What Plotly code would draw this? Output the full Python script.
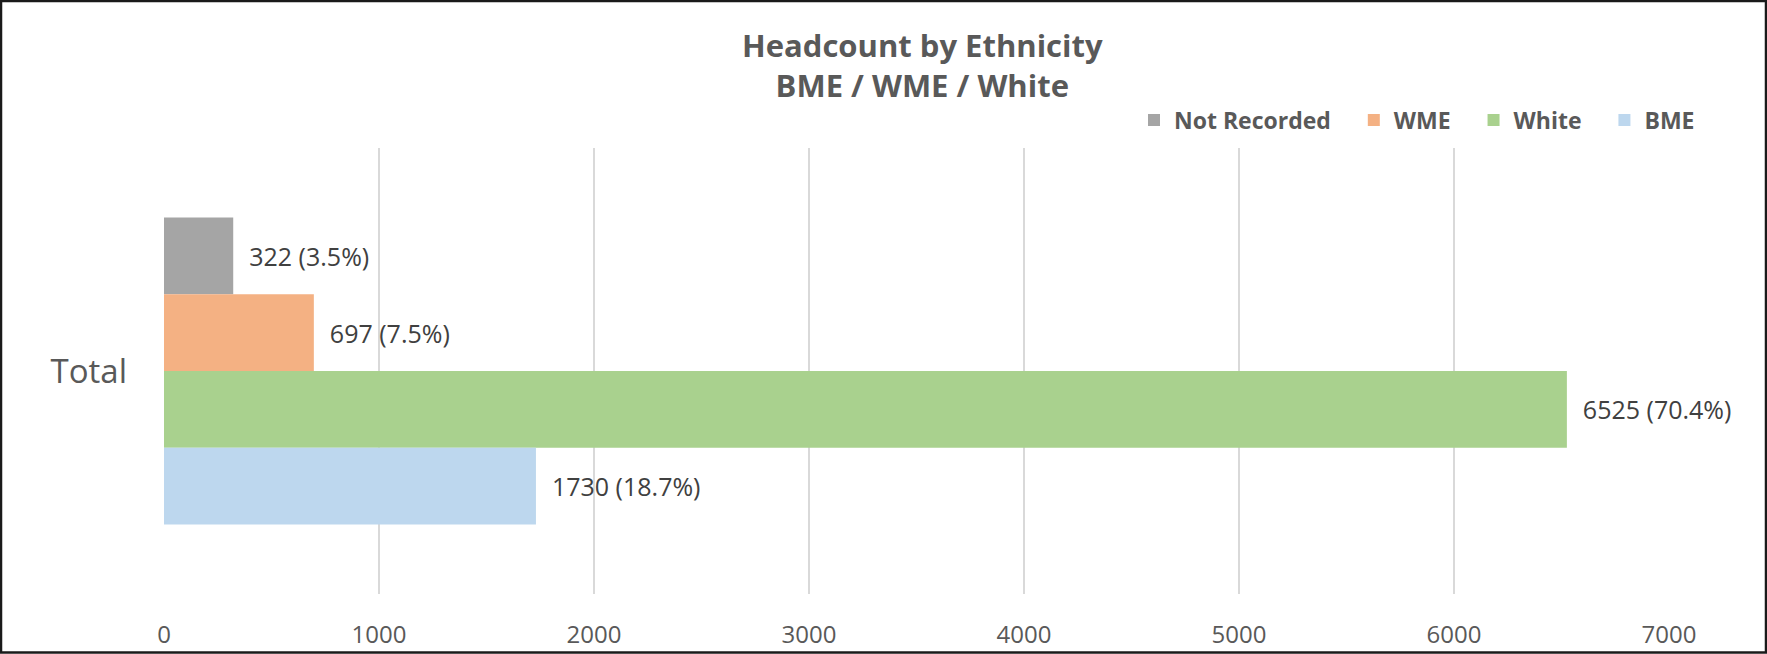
import plotly.graph_objects as go

# ---- data ----
categories = ["Total"]
series_names = ["Not Recorded", "WME", "White", "BME"]
series_values = [322, 697, 6525, 1730]
series_pcts = ["3.5", "7.5", "70.4", "18.7"]
series_colors = ["#A5A5A5", "#F4B183", "#A9D18E", "#BDD7EE"]
x_ticks = [0, 1000, 2000, 3000, 4000, 5000, 6000, 7000]

# ---- layout constants ----
W, H = 1767, 654
L, R, T, B = 164, 98, 148, 60
PW, PH = W - L - R, H - T - B
FONT = "Open Sans"
PAD = "\u00a0" * 3  # spacing after legend entries

fig = go.Figure()
for name, val, pct, col in zip(series_names, series_values, series_pcts, series_colors):
    fig.add_trace(go.Bar(
        name=name + PAD,
        y=categories,
        x=[val],
        orientation="h",
        marker=dict(color=col, line=dict(width=0)),
        text=[f"\u00a0\u00a0{val} ({pct}%)"],
        textposition="outside",
        constraintext="none",
        cliponaxis=False,
        textfont=dict(family=FONT, size=25, color="#404040"),
        hoverinfo="skip",
    ))

def px_x(p):
    return (p - L) / PW

def px_y(p):
    return (H - B - p) / PH

fig.update_layout(
    width=W, height=H,
    margin=dict(l=L, r=R, t=T, b=B, pad=0, autoexpand=False),
    paper_bgcolor="white",
    plot_bgcolor="white",
    barmode="group",
    bargap=0.312,
    bargroupgap=0,
    font=dict(family=FONT, color="#595959"),
    legend=dict(
        orientation="h",
        xanchor="right", x=px_x(1718),
        yanchor="middle", y=px_y(120),
        font=dict(family=FONT, size=23, color="#595959", weight="bold"),
        bgcolor="rgba(0,0,0,0)",
        traceorder="normal",
    ),
    xaxis=dict(
        range=[0, 7000],
        tickvals=x_ticks,
        showgrid=True, gridcolor="#D9D9D9", gridwidth=2,
        zeroline=False, showline=False,
        ticks="", ticklabelstandoff=24, automargin=False,
        tickfont=dict(family=FONT, size=24, color="#595959"),
        fixedrange=True,
    ),
    yaxis=dict(
        type="category",
        autorange="reversed",
        showgrid=False, zeroline=False, showline=False,
        ticks="", ticklabelstandoff=36, automargin=False,
        tickfont=dict(family=FONT, size=33, color="#595959"),
        fixedrange=True,
    ),
    showlegend=True,
)

# title (two lines)
fig.add_annotation(
    text="<b>Headcount by Ethnicity<br>BME / WME / White</b>",
    xref="paper", x=px_x(922), xanchor="center",
    yref="paper", y=px_y(22), yanchor="top",
    showarrow=False, align="center",
    font=dict(family=FONT, size=31, color="#595959"),
)

# chart border
fig.add_shape(
    type="rect", xref="paper", yref="paper",
    x0=px_x(1), x1=px_x(W - 1), y0=px_y(H - 1.5), y1=px_y(1),
    line=dict(color="#1a1a1a", width=2.5), fillcolor="rgba(0,0,0,0)", layer="above",
)

fig.write_html("out.html")
